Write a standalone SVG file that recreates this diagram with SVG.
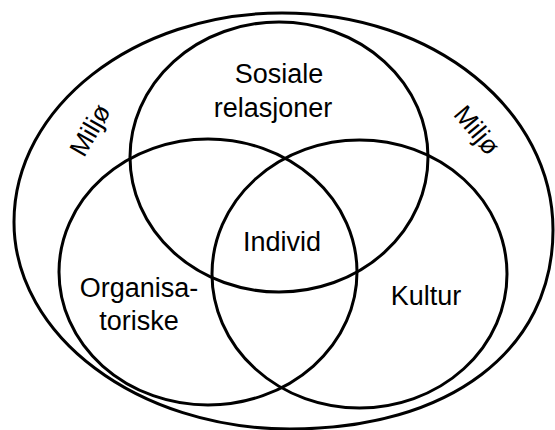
<svg xmlns="http://www.w3.org/2000/svg" width="555" height="430" viewBox="0 0 555 430">
<style>
.c{fill:none;stroke:#000;stroke-width:3}
.t{font-family:"Liberation Sans",Arial,sans-serif;font-size:27px;fill:#000;text-anchor:middle}
.m{font-family:"Liberation Sans",Arial,sans-serif;font-size:26px;fill:#000;text-anchor:middle}
</style>
<rect width="555" height="430" fill="#fff"/>
<g id="miljo">
<path class="c" d="M282,13 C434,13 553,110 553,230 C553,350 450,429 290,429 C138,429 14,336 14,222 C14,107 134,13 282,13 Z"/>
<text class="m" transform="translate(90,130) rotate(-60)" x="0" y="9">Miljø</text>
<text class="m" transform="translate(477,130) rotate(50)" x="0" y="9">Miljø</text>
</g>
<g id="sosiale">
<ellipse class="c" cx="279" cy="157" rx="149" ry="135"/>
<text class="t" x="279" y="83">Sosiale</text>
<text class="t" x="273" y="117">relasjoner</text>
</g>
<g id="organisatoriske">
<ellipse class="c" cx="208" cy="272" rx="149" ry="133"/>
<text class="t" x="139" y="297">Organisa-</text>
<text class="t" x="139" y="330">toriske</text>
</g>
<g id="kultur">
<ellipse class="c" cx="359.5" cy="274" rx="147.5" ry="134"/>
<text class="t" x="426" y="305">Kultur</text>
</g>
<g id="individ">
<text class="t" x="282" y="251">Individ</text>
</g>
<g id="connectors"/>
</svg>
